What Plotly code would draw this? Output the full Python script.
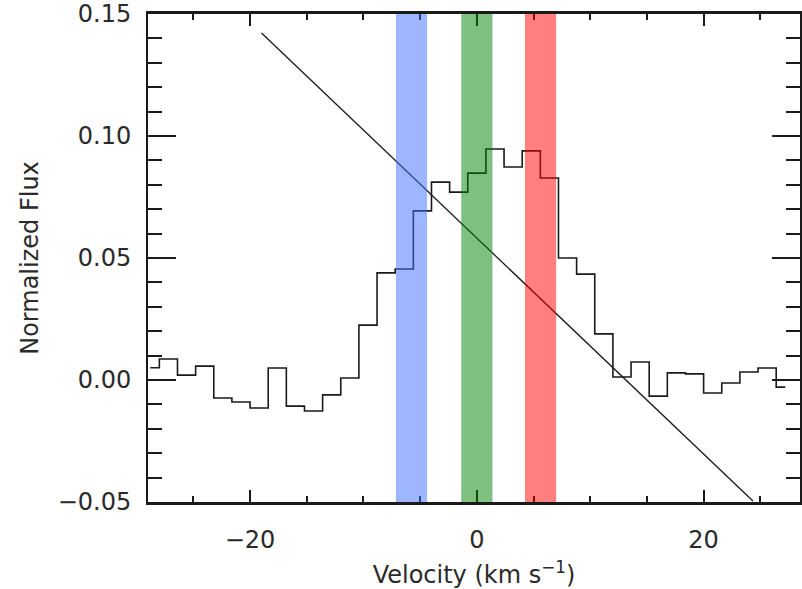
import plotly.graph_objects as go

# Histogram bin centres (km/s) and normalized flux values
bin_width = 1.6
bin_index = list(range(-18, 18))
velocity = [k * bin_width for k in bin_index]
flux = [0.0050, 0.0086, 0.0020, 0.0057, -0.0074, -0.0090, -0.0115, 0.0049,
        -0.0107, -0.0127, -0.0061, 0.0008, 0.0225, 0.0439, 0.0455, 0.0693,
        0.0811, 0.0770, 0.0848, 0.0947, 0.0873, 0.0939, 0.0828, 0.0500,
        0.0434, 0.0189, 0.0012, 0.0074, -0.0066, 0.0029, 0.0025, -0.0053,
        -0.0012, 0.0033, 0.0049, -0.0029]

# Highlighted velocity bands
band_centers = [-5.76, 0.0, 5.62]
band_width = 2.75
band_colors = ["rgba(60,110,255,0.5)", "rgba(0,128,0,0.5)", "rgba(255,0,0,0.5)"]

# Stray diagonal line seen in the plot
stray_x = [-18.99, 24.35]
stray_y = [0.1422, -0.0496]

y_ticks = [-0.05, 0.0, 0.05, 0.10, 0.15]
y_tick_text = ["−0.05", "0.00", "0.05", "0.10", "0.15"]
x_ticks = [-20, 0, 20]
x_tick_text = ["−20", "0", "20"]

fig = go.Figure()
fig.add_trace(go.Scatter(x=velocity, y=flux, mode="lines",
                         line=dict(shape="hvh", color="#1a1a1a", width=1.6),
                         showlegend=False))
fig.add_trace(go.Scatter(x=stray_x, y=stray_y, mode="lines",
                         line=dict(color="#1a1a1a", width=1.3),
                         showlegend=False))

for c, col in zip(band_centers, band_colors):
    fig.add_shape(type="rect", xref="x", yref="paper",
                  x0=c - band_width / 2, x1=c + band_width / 2, y0=0, y1=1,
                  fillcolor=col, line_width=0, layer="above")

font = dict(family="DejaVu Sans", size=24, color="#2a2a2a")

fig.update_layout(
    width=802, height=589,
    margin=dict(l=148, r=0, t=14, b=87),
    paper_bgcolor="white", plot_bgcolor="white",
    font=font,
    showlegend=False,
    xaxis=dict(range=[-29.0, 28.5], tickvals=x_ticks, ticktext=x_tick_text,
               ticks="inside", ticklen=12, tickwidth=1.5, tickcolor="#1a1a1a",
               minor=dict(dtick=5, ticks="inside", ticklen=6, tickcolor="#1a1a1a"),
               showline=True, linecolor="#1a1a1a", linewidth=2.5, mirror="allticks",
               showgrid=False, zeroline=False, ticklabelstandoff=14,
               title=dict(text="Velocity (km s<sup>−1</sup>)", font=font, standoff=14)),
    yaxis=dict(range=[-0.05, 0.15], tickvals=y_ticks, ticktext=y_tick_text,
               ticks="inside", ticklen=28, tickwidth=1.5, tickcolor="#1a1a1a",
               minor=dict(dtick=0.01, ticks="inside", ticklen=14, tickcolor="#1a1a1a"),
               showline=True, linecolor="#1a1a1a", linewidth=2, mirror="allticks",
               showgrid=False, zeroline=False, ticklabelstandoff=10,
               title=dict(text="Normalized Flux", font=font, standoff=12)),
)

fig.write_html("out.html")
